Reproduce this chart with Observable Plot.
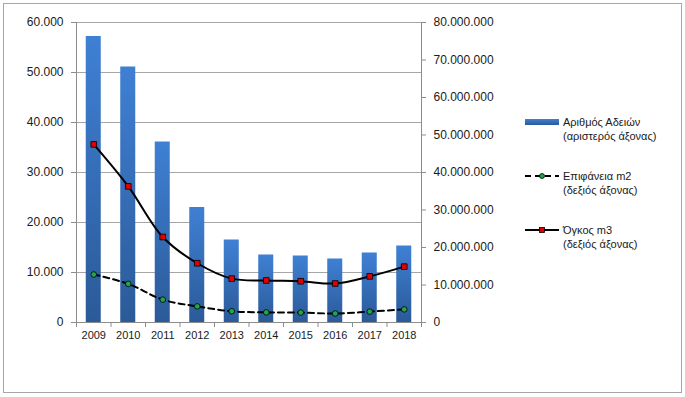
<!DOCTYPE html>
<html>
<head>
<meta charset="utf-8">
<script src="https://cdn.jsdelivr.net/npm/d3@7"></script>
<script src="https://cdn.jsdelivr.net/npm/@observablehq/plot@0.6"></script>
<style>
  html, body { margin: 0; padding: 0; background: #fff; }
  #wrap { position: relative; width: 685px; height: 397px; overflow: hidden; font-family: "Liberation Sans", Arial, sans-serif; }
  #frame { position: absolute; left: 3px; top: 3px; width: 677px; height: 388px; border: 1px solid #a6a6a6; pointer-events: none; }
  #chart { position: absolute; left: 0; top: 0; }
  .leg { position: absolute; left: 525px; font-size: 11px; color: #1a1a1a; line-height: 14px; }
  .leg svg { position: absolute; left: 0; }
  .leg span { position: absolute; left: 38px; white-space: nowrap; }
</style>
</head>
<body>
<div id="wrap">
  <div id="chart"></div>
  <div id="frame"></div>
  <div class="leg" style="top:115px">
    <svg width="34" height="14" style="top:0"><defs><linearGradient id="lg0" x1="0" y1="0" x2="0" y2="1"><stop offset="0" stop-color="#3f80d4"/><stop offset="1" stop-color="#2b5a98"/></linearGradient></defs><rect x="0" y="4" width="34" height="6" fill="url(#lg0)"/></svg>
    <span style="top:0">Αριθμός Αδειών</span>
    <span style="top:14px">(αριστερός άξονας)</span>
  </div>
  <div class="leg" style="top:169px">
    <svg width="34" height="14" style="top:0"><line x1="0" y1="7" x2="34" y2="7" stroke="#000" stroke-width="2" stroke-dasharray="6,4"/><circle cx="17" cy="7" r="2.5" fill="#1fa84a" stroke="#000" stroke-width="0.8"/></svg>
    <span style="top:0">Επιφάνεια m2</span>
    <span style="top:14px">(δεξιός άξονας)</span>
  </div>
  <div class="leg" style="top:223px">
    <svg width="34" height="14" style="top:0"><line x1="0" y1="7" x2="34" y2="7" stroke="#000" stroke-width="2"/><rect x="14.5" y="4.5" width="5" height="5" fill="#e00000" stroke="#000" stroke-width="0.8"/></svg>
    <span style="top:0">Όγκος m3</span>
    <span style="top:14px">(δεξιός άξονας)</span>
  </div>
</div>
<script>
const years = [2009, 2010, 2011, 2012, 2013, 2014, 2015, 2016, 2017, 2018];
const permits = [57200, 51100, 36100, 23000, 16500, 13500, 13300, 12700, 13900, 15300];
const surface = [12800000, 10300000, 6100000, 4300000, 3000000, 2700000, 2650000, 2400000, 2900000, 3500000];
const volume = [47500000, 36300000, 22800000, 15800000, 11700000, 11200000, 11000000, 10400000, 12300000, 14900000];
const leftTicks = [0, 10000, 20000, 30000, 40000, 50000, 60000];
const rightTicks = [0, 10000000, 20000000, 30000000, 40000000, 50000000, 60000000, 70000000, 80000000];

const leftMax = 60000, rightMax = 80000000;
const k = leftMax / rightMax;
const loc = d3.formatLocale({decimal: ",", thousands: ".", grouping: [3], currency: ["", "€"]});
const fmt = loc.format(",d");

const data = years.map((year, i) => ({year, permits: permits[i], surface: surface[i], volume: volume[i]}));
const halfBar = 0.2175;
const bounds = years.map(y => y - 0.5).concat([years[years.length - 1] + 0.5]);

const chart = Plot.plot({
  width: 685,
  height: 397,
  marginLeft: 76,
  marginRight: 264,
  marginTop: 22,
  marginBottom: 75,
  style: {fontFamily: "'Liberation Sans', Arial, sans-serif", fontSize: "12px", color: "#1a1a1a", background: "transparent", overflow: "visible"},
  x: {type: "linear", domain: [bounds[0], bounds[bounds.length - 1]]},
  y: {domain: [0, leftMax]},
  marks: [
    Plot.ruleY(leftTicks.filter(d => d > 0), {stroke: "#a6a6a6", strokeWidth: 1}),
    Plot.rectY(data, {x1: d => d.year - halfBar, x2: d => d.year + halfBar, y1: 0, y2: "permits", fill: "url(#barGrad)"}),
    Plot.line(data, {x: "year", y: d => d.surface * k, curve: "catmull-rom", stroke: "#000", strokeWidth: 2, strokeDasharray: "6,4"}),
    Plot.dot(data, {x: "year", y: d => d.surface * k, r: 2.8, fill: "#1fa84a", stroke: "#000", strokeWidth: 0.8}),
    Plot.line(data, {x: "year", y: d => d.volume * k, curve: "catmull-rom", stroke: "#000", strokeWidth: 2}),
    Plot.dot(data, {x: "year", y: d => d.volume * k, symbol: "square", r: 3.2, fill: "#e00000", stroke: "#000", strokeWidth: 0.8}),
    Plot.ruleX([bounds[0], bounds[bounds.length - 1]], {stroke: "#8c8c8c"}),
    Plot.ruleY([0], {stroke: "#8c8c8c"}),
    Plot.axisY({ticks: leftTicks, tickFormat: fmt, tickSize: 5, tickPadding: 8, stroke: "#8c8c8c", fill: "#1a1a1a", label: null}),
    Plot.axisY({anchor: "right", ticks: rightTicks.map(v => v * k), tickFormat: v => fmt(Math.round(v / k)), tickSize: 4, tickPadding: 8, stroke: "#8c8c8c", fill: "#1a1a1a", label: null}),
    Plot.axisX({ticks: bounds, tickFormat: () => "", tickSize: 5, stroke: "#8c8c8c", label: null}),
    Plot.axisX({ticks: years, tickFormat: d => String(d), tickSize: 0, tickPadding: 9, fontSize: 11, fill: "#1a1a1a", label: null})
  ]
});

const svg = d3.select(chart);
const defs = svg.insert("defs", ":first-child");
const g = defs.append("linearGradient").attr("id", "barGrad").attr("x1", 0).attr("y1", 0).attr("x2", 0).attr("y2", 1);
g.append("stop").attr("offset", 0).attr("stop-color", "#3f80d4");
g.append("stop").attr("offset", 1).attr("stop-color", "#2b5a98");

document.getElementById("chart").appendChild(chart);
</script>
</body>
</html>
